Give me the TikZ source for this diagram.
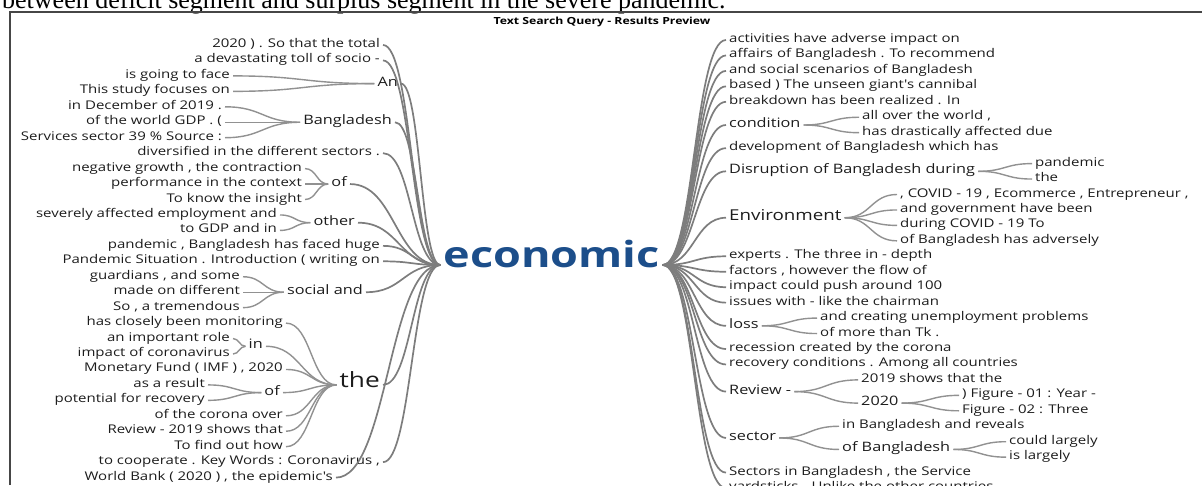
\documentclass[tikz,border=0pt]{standalone}
\usepackage{fontspec}
\usetikzlibrary{calc}
\newfontfamily\wtfont[FakeStretch=1.25]{Open Sans}
\newfontfamily\docfont{Liberation Serif}
\definecolor{txt}{RGB}{28,28,28}
\definecolor{linkgray}{RGB}{145,145,145}
\definecolor{trunkgray}{RGB}{125,125,125}
\definecolor{ecoblue}{RGB}{28,78,138}
\definecolor{framegray}{RGB}{70,70,70}
\tikzset{
  wt/.style={to path={.. controls ($(\tikztostart)!0.5!(\tikztotarget|-\tikztostart)$) and ($(\tikztotarget)!0.5!(\tikztostart|-\tikztotarget)$) .. (\tikztotarget)}},
  trunk/.style={draw=trunkgray, line width=1.7pt, wt},
  link/.style={draw=linkgray, line width=1.4pt, wt},
  wleaf/.style={font=\wtfont\fontsize{12}{14}\selectfont, text=txt, inner xsep=3pt, inner ysep=0pt, text height=0.72em, text depth=0.22em},
  wmid/.style={wleaf, font=\wtfont\fontsize{13}{15}\selectfont},
  wbig/.style={wleaf, font=\wtfont\fontsize{15}{17}\selectfont},
  wthe/.style={wleaf, font=\wtfont\fontsize{21}{23}\selectfont},
  lt/.style={anchor=east},
  rt/.style={anchor=west},
  rootword/.style={font=\wtfont\bfseries\fontsize{36}{38}\selectfont, text=ecoblue, inner xsep=3pt, inner ysep=0pt, text height=0.72em, text depth=0.22em},
  headline/.style={font=\wtfont\bfseries\fontsize{9.8}{11}\selectfont, text=black},
  doctext/.style={font=\docfont\fontsize{26}{28}\selectfont, anchor=base west, inner sep=0pt},
  frameline/.style={draw=framegray, line width=1.2pt}
}
\begin{document}
\begin{tikzpicture}[x=1pt,y=-1pt]
\useasboundingbox (0,0) rectangle (1202,485);
\node[doctext] (cap) at (2,8) {between deficit segment and surplus segment in the severe pandemic.};
\coordinate (f1) at (10,485);
\coordinate (f2) at (10,12);
\coordinate (f3) at (1202,12);
\draw[frameline] (f1) -- (f2) -- (f3);
\node[headline] (head) at (602,22) {Text Search Query - Results Preview};
\node[rootword] (eco) at (551.5,265) {economic};

\node[wleaf,lt] (l1) at (383,45) {2020 ) . So that the total};
\node[wleaf,lt] (l2) at (383,60.45) {a devastating toll of socio -};
\node[wmid,lt] (l3) at (401,83.6) {An};
\node[wleaf,lt] (l3a) at (233,75.9) {is going to face};
\node[wleaf,lt] (l3b) at (233,91.35) {This study focuses on};
\node[wmid,lt] (l4) at (395,122.25) {Bangladesh};
\node[wleaf,lt] (l4a) at (225,106.8) {in December of 2019 .};
\node[wleaf,lt] (l4b) at (225,122.25) {of the world GDP . (};
\node[wleaf,lt] (l4c) at (225,137.7) {Services sector 39 \% Source :};
\node[wleaf,lt] (l5) at (383,153.15) {diversified in the different sectors .};
\node[wmid,lt] (l6) at (350,184.05) {of};
\node[wleaf,lt] (l6a) at (305,168.6) {negative growth , the contraction};
\node[wleaf,lt] (l6b) at (305,184.05) {performance in the context};
\node[wleaf,lt] (l6c) at (305,199.5) {To know the insight};
\node[wmid,lt] (l7) at (358,222.7) {other};
\node[wleaf,lt] (l7a) at (280,214.95) {severely affected employment and};
\node[wleaf,lt] (l7b) at (280,230.4) {to GDP and in};
\node[wleaf,lt] (l8) at (383,245.85) {pandemic , Bangladesh has faced huge};
\node[wleaf,lt] (l9) at (383,261.3) {Pandemic Situation . Introduction ( writing on};
\node[wmid,lt] (l10) at (366,292.2) {social and};
\node[wleaf,lt] (l10a) at (243,276.75) {guardians , and some};
\node[wleaf,lt] (l10b) at (243,292.2) {made on different};
\node[wleaf,lt] (l10c) at (243,307.65) {So , a tremendous};
\node[wthe,lt] (l11) at (383,384.9) {the};
\node[wleaf,lt] (t1) at (286,323.1) {has closely been monitoring};
\node[wmid,lt] (t2) at (266,346.3) {in};
\node[wleaf,lt] (t2a) at (233,338.55) {an important role};
\node[wleaf,lt] (t2b) at (233,354) {impact of coronavirus};
\node[wleaf,lt] (t3) at (286,369.45) {Monetary Fund ( IMF ) , 2020};
\node[wmid,lt] (t4) at (283,392.6) {of};
\node[wleaf,lt] (t4a) at (208,384.9) {as a result};
\node[wleaf,lt] (t4b) at (208,400.35) {potential for recovery};
\node[wleaf,lt] (t5) at (286,415.8) {of the corona over};
\node[wleaf,lt] (t6) at (286,431.25) {Review - 2019 shows that};
\node[wleaf,lt] (t7) at (286,446.7) {To find out how};
\node[wleaf,lt] (l12) at (383,462.15) {to cooperate . Key Words : Coronavirus ,};
\node[wleaf,lt] (l13) at (336,477.6) {World Bank ( 2020 ) , the epidemic's};

\node[wleaf,rt] (r1) at (726,40) {activities have adverse impact on};
\node[wleaf,rt] (r2) at (726,55.45) {affairs of Bangladesh . To recommend};
\node[wleaf,rt] (r3) at (726,70.9) {and social scenarios of Bangladesh};
\node[wleaf,rt] (r4) at (726,86.35) {based ) The unseen giant's cannibal};
\node[wleaf,rt] (r5) at (726,101.8) {breakdown has been realized . In};
\node[wmid,rt] (r6) at (726,125) {condition};
\node[wleaf,rt] (r6a) at (859,117.25) {all over the world ,};
\node[wleaf,rt] (r6b) at (859,132.7) {has drastically affected due};
\node[wleaf,rt] (r7) at (726,148.15) {development of Bangladesh which has};
\node[wmid,rt] (r8) at (726,171.3) {Disruption of Bangladesh during};
\node[wleaf,rt] (r8a) at (1032,163.6) {pandemic};
\node[wleaf,rt] (r8b) at (1032,179.05) {the};
\node[wbig,rt] (r9) at (726,217.75) {Environment};
\node[wleaf,rt] (r9a) at (897,194.5) {, COVID - 19 , Ecommerce , Entrepreneur ,};
\node[wleaf,rt] (r9b) at (897,209.95) {and government have been};
\node[wleaf,rt] (r9c) at (897,225.4) {during COVID - 19 To};
\node[wleaf,rt] (r9d) at (897,240.85) {of Bangladesh has adversely};
\node[wleaf,rt] (r10) at (726,256.3) {experts . The three in - depth};
\node[wleaf,rt] (r11) at (726,271.75) {factors , however the flow of};
\node[wleaf,rt] (r12) at (726,287.2) {impact could push around 100};
\node[wleaf,rt] (r13) at (726,302.65) {issues with - like the chairman};
\node[wmid,rt] (r14) at (726,325.8) {loss};
\node[wleaf,rt] (r14a) at (817,318.1) {and creating unemployment problems};
\node[wleaf,rt] (r14b) at (817,333.55) {of more than Tk .};
\node[wleaf,rt] (r15) at (726,349) {recession created by the corona};
\node[wleaf,rt] (r16) at (726,364.45) {recovery conditions . Among all countries};
\node[wmid,rt] (r17) at (726,391.6) {Review -};
\node[wleaf,rt] (r17a) at (858,379.9) {2019 shows that the};
\node[wmid,rt] (r17b) at (858,403.1) {2020};
\node[wleaf,rt] (r17c) at (959,395.35) {) Figure - 01 : Year -};
\node[wleaf,rt] (r17d) at (959,410.8) {Figure - 02 : Three};
\node[wmid,rt] (r18) at (726,437.95) {sector};
\node[wleaf,rt] (r18a) at (839,426.25) {in Bangladesh and reveals};
\node[wmid,rt] (r18b) at (839,449.45) {of Bangladesh};
\node[wleaf,rt] (r18c) at (1006,441.7) {could largely};
\node[wleaf,rt] (r18d) at (1006,457.15) {is largely};
\node[wleaf,rt] (r19) at (726,472.6) {Sectors in Bangladesh , the Service};
\node[wleaf,rt] (r20) at (726,488.05) {yardsticks . Unlike the other countries};

\draw[trunk] (l1.east) to (eco.west);
\draw[trunk] (l2.east) to (eco.west);
\draw[trunk] (l3.east) to (eco.west);
\draw[trunk] (l4.east) to (eco.west);
\draw[trunk] (l5.east) to (eco.west);
\draw[trunk] (l6.east) to (eco.west);
\draw[trunk] (l7.east) to (eco.west);
\draw[trunk] (l8.east) to (eco.west);
\draw[trunk] (l9.east) to (eco.west);
\draw[trunk] (l10.east) to (eco.west);
\draw[trunk] (l11.east) to (eco.west);
\draw[trunk] (l12.east) to (eco.west);
\draw[trunk] (l13.east) to (eco.west);
\draw[link] (l3a.east) to (l3.west);
\draw[link] (l3b.east) to (l3.west);
\draw[link] (l4a.east) to (l4.west);
\draw[link] (l4b.east) to (l4.west);
\draw[link] (l4c.east) to (l4.west);
\draw[link] (l6a.east) to (l6.west);
\draw[link] (l6b.east) to (l6.west);
\draw[link] (l6c.east) to (l6.west);
\draw[link] (l7a.east) to (l7.west);
\draw[link] (l7b.east) to (l7.west);
\draw[link] (l10a.east) to (l10.west);
\draw[link] (l10b.east) to (l10.west);
\draw[link] (l10c.east) to (l10.west);
\draw[link] (t1.east) to (l11.west);
\draw[link] (t2.east) to (l11.west);
\draw[link] (t3.east) to (l11.west);
\draw[link] (t4.east) to (l11.west);
\draw[link] (t5.east) to (l11.west);
\draw[link] (t6.east) to (l11.west);
\draw[link] (t7.east) to (l11.west);
\draw[link] (t2a.east) to (t2.west);
\draw[link] (t2b.east) to (t2.west);
\draw[link] (t4a.east) to (t4.west);
\draw[link] (t4b.east) to (t4.west);

\draw[trunk] (eco.east) to (r1.west);
\draw[trunk] (eco.east) to (r2.west);
\draw[trunk] (eco.east) to (r3.west);
\draw[trunk] (eco.east) to (r4.west);
\draw[trunk] (eco.east) to (r5.west);
\draw[trunk] (eco.east) to (r6.west);
\draw[trunk] (eco.east) to (r7.west);
\draw[trunk] (eco.east) to (r8.west);
\draw[trunk] (eco.east) to (r9.west);
\draw[trunk] (eco.east) to (r10.west);
\draw[trunk] (eco.east) to (r11.west);
\draw[trunk] (eco.east) to (r12.west);
\draw[trunk] (eco.east) to (r13.west);
\draw[trunk] (eco.east) to (r14.west);
\draw[trunk] (eco.east) to (r15.west);
\draw[trunk] (eco.east) to (r16.west);
\draw[trunk] (eco.east) to (r17.west);
\draw[trunk] (eco.east) to (r18.west);
\draw[trunk] (eco.east) to (r19.west);
\draw[trunk] (eco.east) to (r20.west);
\draw[link] (r6.east) to (r6a.west);
\draw[link] (r6.east) to (r6b.west);
\draw[link] (r8.east) to (r8a.west);
\draw[link] (r8.east) to (r8b.west);
\draw[link] (r9.east) to (r9a.west);
\draw[link] (r9.east) to (r9b.west);
\draw[link] (r9.east) to (r9c.west);
\draw[link] (r9.east) to (r9d.west);
\draw[link] (r14.east) to (r14a.west);
\draw[link] (r14.east) to (r14b.west);
\draw[link] (r17.east) to (r17a.west);
\draw[link] (r17.east) to (r17b.west);
\draw[link] (r17b.east) to (r17c.west);
\draw[link] (r17b.east) to (r17d.west);
\draw[link] (r18.east) to (r18a.west);
\draw[link] (r18.east) to (r18b.west);
\draw[link] (r18b.east) to (r18c.west);
\draw[link] (r18b.east) to (r18d.west);
\end{tikzpicture}
\end{document}
